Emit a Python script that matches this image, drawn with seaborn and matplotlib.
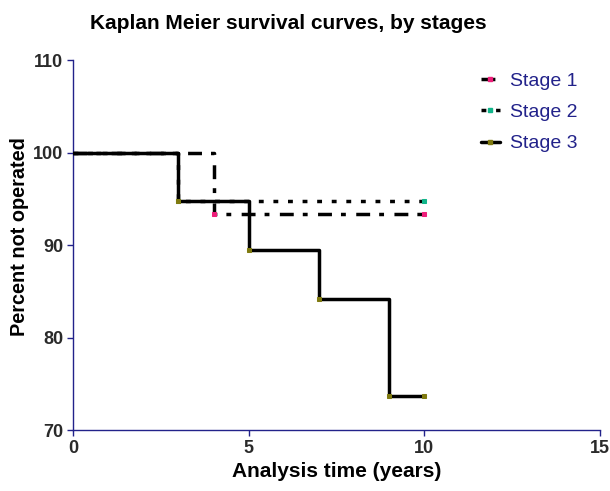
import matplotlib
matplotlib.use("Agg")
import matplotlib.pyplot as plt
import seaborn as sns
import pandas as pd
from matplotlib.lines import Line2D

# Data (Kaplan-Meier step points)
stage1_t = [0, 4, 10]
stage1_s = [100, 93.33, 93.33]
stage2_t = [0, 3, 10]
stage2_s = [100, 94.74, 94.74]
stage3_t = [0, 3, 5, 7, 9, 10]
stage3_s = [100, 94.74, 89.47, 84.21, 73.68, 73.68]
labels = ["Stage 1", "Stage 2", "Stage 3"]
marker_colors = ["#ee1e7a", "#11b58a", "#7f7a10"]

sns.set_style("white")
plt.rcParams["font.family"] = ["Liberation Sans", "DejaVu Sans"]
navy = "#22228a"

fig = plt.figure(figsize=(6.1, 4.91), dpi=100)
ax = fig.add_axes([0.1197, 0.1242, 0.8639, 0.7536])

LW = 2.5
series = [(stage1_t, stage1_s, (0, (4.0, 2.6, 1.4, 3.0))),
          (stage2_t, stage2_s, (0, (1.4, 2.8))),
          (stage3_t, stage3_s, "-")]

for (t, s, ls), lab, mc in zip(series, labels, marker_colors):
    df = pd.DataFrame({"t": t, "s": s})
    sns.lineplot(data=df, x="t", y="s", ax=ax, color="black", linewidth=LW,
                 drawstyle="steps-post", linestyle=ls, marker="s",
                 markersize=3.2, markerfacecolor=mc, markeredgecolor=mc,
                 markevery=list(range(1, len(t))), zorder=3)

ax.set_xlim(0, 15)
ax.set_ylim(70, 110)
ax.set_xticks([0, 5, 10, 15])
ax.set_yticks([70, 80, 90, 100, 110])
for sp in ["top", "right"]:
    ax.spines[sp].set_visible(False)
for sp in ["left", "bottom"]:
    ax.spines[sp].set_color(navy)
    ax.spines[sp].set_linewidth(1.0)
ax.tick_params(axis="both", direction="out", length=4, width=1, color=navy,
               labelsize=13, labelcolor="#2a2a2a", bottom=True, left=True, pad=3)
for lbl in ax.get_xticklabels() + ax.get_yticklabels():
    lbl.set_fontweight("bold")

ax.set_xlabel("Analysis time (years)", fontsize=15, fontweight="bold",
              color="black", labelpad=4)
ax.set_ylabel("Percent not operated", fontsize=14.3, fontweight="bold",
              color="black", labelpad=3)
ax.yaxis.set_label_coords(-0.083, 0.522)
ax.set_title("Kaplan Meier survival curves, by stages", fontsize=15,
             fontweight="bold", color="black", pad=22, x=0.408)

hdl = []
for ls, mc in zip([s[2] for s in series], marker_colors):
    hdl.append(Line2D([0, 0.5, 1], [0, 0, 0], color="black", linewidth=LW,
                      linestyle=ls, marker="s", markersize=3.2,
                      markerfacecolor=mc, markeredgecolor=mc, markevery=[1]))
leg = ax.legend(hdl, labels, loc="upper right", bbox_to_anchor=(0.99, 1.014),
                frameon=False, fontsize=14, handlelength=1.0, handletextpad=0.5,
                labelspacing=0.7)
for txt in leg.get_texts():
    txt.set_color(navy)

fig.savefig("out.png", dpi=100)
